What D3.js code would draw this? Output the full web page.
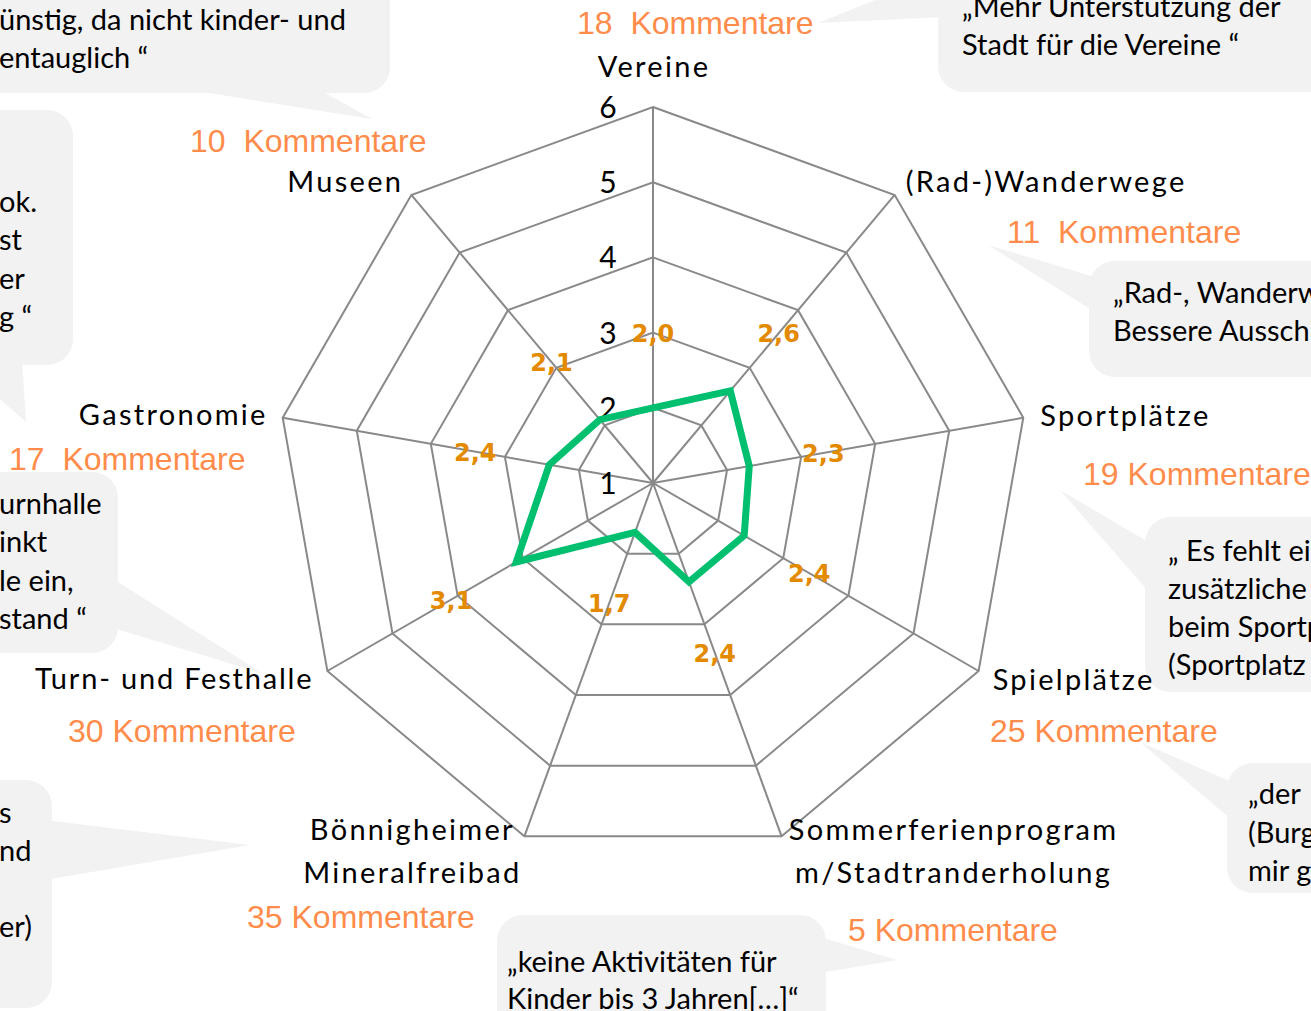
<!DOCTYPE html>
<html>
<head>
<meta charset="utf-8">
<script src="https://cdn.jsdelivr.net/npm/d3@7"></script>
<style>
  body { margin: 0; background: #fff; }
  svg { display: block; }
</style>
</head>
<body>
<script>
// axes, clockwise from the top
var categories = ["Vereine", "(Rad-)Wanderwege", "Sportplätze", "Spielplätze",
  "Sommerferienprogram|m/Stadtranderholung", "Bönnigheimer|Mineralfreibad",
  "Turn- und Festhalle", "Gastronomie", "Museen"];
var values = [2.0, 2.6, 2.3, 2.4, 2.4, 1.7, 3.1, 2.4, 2.1];
var valueLabels = ["2,0", "2,6", "2,3", "2,4", "2,4", "1,7", "3,1", "2,4", "2,1"];
var comments = ["18  Kommentare", "11  Kommentare", "19 Kommentare", "25 Kommentare",
  "5 Kommentare", "35 Kommentare", "30 Kommentare", "17  Kommentare", "10  Kommentare"];
var ticks = [1, 2, 3, 4, 5, 6];

// speech bubbles (quotes cut by the page edge)
var bubbleTexts = [
  ["ünstig, da nicht kinder- und", "entauglich “"],
  ["„Mehr Unterstützung der", "Stadt für die Vereine “"],
  ["ok.", "st", "er", "g “"],
  ["„Rad-, Wanderwege", "Bessere Ausschilderung"],
  ["urnhalle", "inkt", "le ein,", "stand  “"],
  ["„ Es fehlt ein", "zusätzliche", "beim Sportplatz", "(Sportplatz"],
  ["„der", "(Burg", "mir g"],
  ["s", "nd", "", "er)"],
  ["„keine Aktivitäten für", "Kinder bis 3 Jahren[…]“"]
];

var width = 1311, height = 1011;
var cx = 653, cy = 483;
var calibri = "Lato, 'Open Sans', sans-serif";

var svg = d3.select("body").append("svg")
  .attr("width", width)
  .attr("height", height);

var r = d3.scaleLinear().domain([1, 6]).range([0, 376]);
var angle = d3.scaleLinear().domain([0, categories.length]).range([0, 2 * Math.PI]);

function pt(i, v) {
  var a = angle(i);
  return [cx + r(v) * Math.sin(a), cy - r(v) * Math.cos(a)];
}

// bubble layout: rect + tail polygon + text origin
var bubbleLayout = [
  {x: -30, y: -30, w: 420, h: 123, tail: [[190, 90], [320, 90], [372, 119]], tx: -1, ty: [30, 68]},
  {x: 938, y: -30, w: 420, h: 122, tail: [[818, 23], [880, -2], [945, -2], [945, 17]], tx: 962, ty: [17, 55]},
  {x: -30, y: 110, w: 103, h: 255, tail: [[-5, 360], [22, 360], [26, 422], [-5, 395]], tx: -1, ty: [212, 250, 289, 327]},
  {x: 1089, y: 261, w: 260, h: 116, tail: [[1095, 277], [1095, 312], [988, 245]], tx: 1113, ty: [303, 341]},
  {x: -30, y: 472, w: 148, h: 181, tail: [[110, 577], [110, 627], [262, 673]], tx: -1, ty: [514, 552, 591, 629]},
  {x: 1145, y: 517, w: 200, h: 175, tail: [[1150, 543], [1150, 593], [1060, 490]], tx: 1168, ty: [561, 599, 637, 675]},
  {x: 1227, y: 763, w: 120, h: 130, tail: [[1232, 782], [1232, 820], [1140, 742]], tx: 1248, ty: [804, 843, 881]},
  {x: -30, y: 780, w: 82, h: 228, tail: [[45, 820], [45, 880], [250, 845]], tx: -1, ty: [823, 861, 899, 937]},
  {x: 497, y: 915, w: 329, h: 130, tail: [[820, 937], [820, 973], [897, 960]], tx: 507, ty: [972, 1009]}
];

var bubbles = svg.append("g").selectAll("g")
  .data(bubbleLayout)
  .enter().append("g");

bubbles.append("polygon")
  .attr("points", function(d) { return d.tail.join(" "); })
  .attr("fill", "#f2f2f2");

bubbles.append("rect")
  .attr("x", function(d) { return d.x; })
  .attr("y", function(d) { return d.y; })
  .attr("width", function(d) { return d.w; })
  .attr("height", function(d) { return d.h; })
  .attr("rx", 26)
  .attr("fill", "#f2f2f2");

bubbles.each(function(d, i) {
  var g = d3.select(this);
  bubbleTexts[i].forEach(function(line, j) {
    g.append("text")
      .attr("x", d.tx)
      .attr("y", d.ty[j])
      .attr("font-family", calibri)
      .attr("font-size", 29)
      .attr("fill", "#000")
      .text(line);
  });
});

// grid rings
var grid = svg.append("g");
var line = d3.line().curve(d3.curveLinearClosed);

grid.selectAll("path.ring")
  .data(ticks.slice(1))
  .enter().append("path")
  .attr("class", "ring")
  .attr("d", function(t) {
    return line(categories.map(function(c, i) { return pt(i, t); }));
  })
  .attr("fill", "none")
  .attr("stroke", "#898989")
  .attr("stroke-width", 2);

grid.selectAll("line.spoke")
  .data(categories)
  .enter().append("line")
  .attr("class", "spoke")
  .attr("x1", cx)
  .attr("y1", cy)
  .attr("x2", function(d, i) { return pt(i, 6)[0]; })
  .attr("y2", function(d, i) { return pt(i, 6)[1]; })
  .attr("stroke", "#898989")
  .attr("stroke-width", 2);

// tick labels
svg.append("g").selectAll("text")
  .data(ticks)
  .enter().append("text")
  .attr("x", cx - 45)
  .attr("y", function(t) { return cy - r(t) + 11; })
  .attr("text-anchor", "middle")
  .attr("font-family", calibri)
  .attr("font-size", 30)
  .attr("fill", "#000")
  .text(function(t) { return t; });

// data polygon
svg.append("path")
  .datum(values)
  .attr("d", function(d) { return line(d.map(function(v, i) { return pt(i, v); })); })
  .attr("fill", "none")
  .attr("stroke", "#00bf6f")
  .attr("stroke-width", 7)
  .attr("stroke-linejoin", "miter");

// value labels, one unit outward along each axis
svg.append("g").selectAll("text")
  .data(values)
  .enter().append("text")
  .attr("x", function(v, i) { return pt(i, v + 1)[0]; })
  .attr("y", function(v, i) { return pt(i, v + 1)[1] + 9; })
  .attr("text-anchor", "middle")
  .attr("font-family", "'DejaVu Sans', sans-serif")
  .attr("font-weight", "bold")
  .attr("font-size", 24)
  .attr("fill", "#e38a00")
  .text(function(v, i) { return valueLabels[i]; });

// axis labels: offsets from the outer vertex
var labelLayout = [
  {dx: 1, dy: -30, anchor: "middle"},
  {dx: 11, dy: -3, anchor: "start"},
  {dx: 17, dy: 8, anchor: "start"},
  {dx: 14, dy: 19, anchor: "start"},
  {dx: 172, dy: 4, anchor: "middle"},
  {dx: -112, dy: 4, anchor: "middle"},
  {dx: -14, dy: 18, anchor: "end"},
  {dx: -15, dy: 7, anchor: "end"},
  {dx: -8, dy: -3, anchor: "end"}
];

svg.append("g").selectAll("text")
  .data(categories)
  .enter().append("text")
  .attr("text-anchor", function(d, i) { return labelLayout[i].anchor; })
  .attr("font-family", calibri)
  .attr("font-size", 29)
  .attr("letter-spacing", function(d, i) { return i === 6 ? 1.8 : 2.3; })
  .attr("fill", "#000")
  .each(function(d, i) {
    var p = pt(i, 6), lay = labelLayout[i];
    var parts = d.split("|");
    var el = d3.select(this);
    parts.forEach(function(s, j) {
      el.append("tspan")
        .attr("x", p[0] + lay.dx)
        .attr("y", p[1] + lay.dy + j * 43)
        .text(s);
    });
  });

// comment counts
var commentPos = [[577, 34], [1007, 243], [1083, 485], [990, 742], [848, 941],
  [247, 928], [68, 742], [9, 470], [190, 152]];

svg.append("g").selectAll("text")
  .data(comments)
  .enter().append("text")
  .attr("x", function(d, i) { return commentPos[i][0]; })
  .attr("y", function(d, i) { return commentPos[i][1]; })
  .attr("font-family", "'Liberation Sans', Arial, sans-serif")
  .attr("font-size", 32)
  .attr("fill", "#ff8c4b")
  .style("white-space", "pre")
  .text(function(d) { return d; });
</script>
</body>
</html>
